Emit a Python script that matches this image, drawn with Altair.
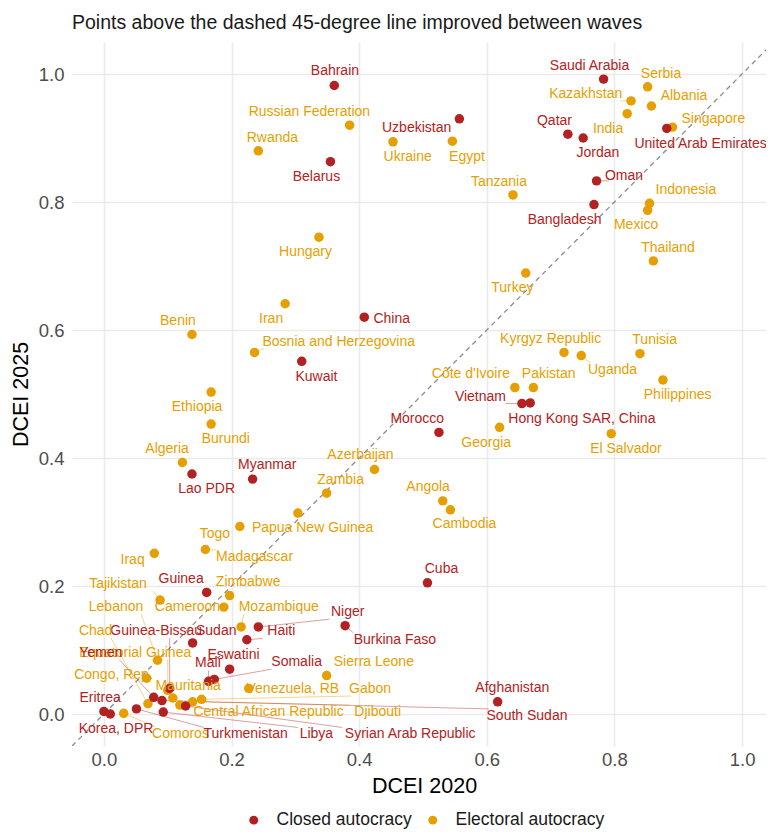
import math
import altair as alt
import pandas as pd

# ---------------- data ----------------
countries = [
    "Bahrain", "Russian Federation", "Rwanda", "Belarus", "Uzbekistan", "Ukraine", "Egypt", "Hungary",
    "Saudi Arabia", "Serbia", "Kazakhstan", "Albania", "India", "Singapore", "United Arab Emirates",
    "Qatar", "Jordan", "Oman", "Bangladesh", "Tanzania", "Indonesia", "Mexico", "Thailand", "Turkey",
    "Iran", "China", "Benin", "Bosnia and Herzegovina", "Kuwait", "Ethiopia", "Burundi", "Algeria",
    "Lao PDR", "Myanmar", "Morocco", "Azerbaijan", "Zambia", "Angola", "Cambodia", "Papua New Guinea",
    "Togo", "Madagascar", "Iraq", "Guinea", "Zimbabwe", "Tajikistan", "Lebanon", "Cameroon",
    "Mozambique", "Kyrgyz Republic", "Uganda", "Tunisia", "Philippines", "Côte d'Ivoire", "Pakistan",
    "Vietnam", "Hong Kong SAR, China", "Georgia", "El Salvador", "Cuba", "Niger", "Burkina Faso",
    "Haiti", "Sudan", "Equatorial Guinea", "Guinea-Bissau", "Chad", "Yemen", "Congo, Rep.",
    "Mauritania", "Eswatini", "Mali", "Somalia", "Venezuela, RB", "Sierra Leone", "Gabon",
    "Central African Republic", "Djibouti", "South Sudan", "Afghanistan", "Eritrea", "Korea, DPR",
    "Comoros", "Turkmenistan", "Libya", "Syrian Arab Republic",
]
regime_code = [
    "C", "E", "E", "C", "C", "E", "E", "E",
    "C", "E", "E", "E", "E", "E", "C",
    "C", "C", "C", "C", "E", "E", "E", "E", "E",
    "E", "C", "E", "E", "C", "E", "E", "E",
    "C", "C", "C", "E", "E", "E", "E", "E",
    "E", "E", "E", "C", "E", "E", "E", "E",
    "E", "E", "E", "E", "E", "E", "E",
    "C", "C", "E", "E", "C", "C", "C",
    "C", "C", "E", "C", "E", "C", "E",
    "E", "C", "C", "C", "E", "E", "E",
    "E", "E", "C", "C", "C", "C",
    "E", "C", "C", "C",
]
dcei_2020 = [
    0.361, 0.385, 0.242, 0.355, 0.557, 0.453, 0.546, 0.337,
    0.783, 0.852, 0.826, 0.858, 0.820, 0.891, 0.882,
    0.727, 0.751, 0.772, 0.768, 0.641, 0.855, 0.852, 0.861, 0.661,
    0.284, 0.408, 0.138, 0.236, 0.310, 0.168, 0.168, 0.123,
    0.138, 0.233, 0.525, 0.424, 0.349, 0.531, 0.543, 0.304,
    0.213, 0.159, 0.079, 0.161, 0.197, 0.088, 0.084, 0.188,
    0.215, 0.721, 0.748, 0.840, 0.876, 0.644, 0.673,
    0.655, 0.668, 0.620, 0.795, 0.507, 0.242, 0.378,
    0.224, 0.139, 0.100, 0.103, 0.069, 0.078, 0.067,
    0.108, 0.197, 0.164, 0.173, 0.227, 0.349, 0.153,
    0.119, 0.139, 0.091, 0.617, 0.000, 0.010,
    0.031, 0.051, 0.093, 0.128,
]
dcei_2025 = [
    0.982, 0.920, 0.880, 0.863, 0.930, 0.894, 0.895, 0.745,
    0.992, 0.980, 0.958, 0.950, 0.938, 0.917, 0.915,
    0.906, 0.900, 0.833, 0.796, 0.811, 0.798, 0.787, 0.708, 0.689,
    0.641, 0.620, 0.593, 0.565, 0.551, 0.503, 0.453, 0.393,
    0.375, 0.367, 0.440, 0.382, 0.345, 0.333, 0.319, 0.314,
    0.293, 0.257, 0.251, 0.190, 0.185, 0.178, 0.084, 0.167,
    0.136, 0.565, 0.560, 0.563, 0.522, 0.510, 0.510,
    0.485, 0.486, 0.448, 0.438, 0.205, 0.136, 0.138,
    0.116, 0.111, 0.037, 0.040, 0.016, 0.026, 0.056,
    0.025, 0.070, 0.051, 0.054, 0.040, 0.060, 0.023,
    0.014, 0.019, 0.021, 0.019, 0.004, 0.000,
    0.001, 0.008, 0.003, 0.0125,
]
# where each repelled label sits (data units)
label_x = [
    0.362, 0.322, 0.264, 0.333, 0.490, 0.476, 0.569, 0.316,
    0.761, 0.873, 0.755, 0.909, 0.790, 0.955, 0.935,
    0.706, 0.774, 0.815, 0.722, 0.619, 0.912, 0.834, 0.884, 0.640,
    0.262, 0.451, 0.116, 0.368, 0.333, 0.146, 0.191, 0.099,
    0.161, 0.256, 0.491, 0.402, 0.371, 0.508, 0.565, 0.327,
    0.174, 0.236, 0.045, 0.121, 0.226, 0.022, 0.019, 0.131,
    0.274, 0.700, 0.797, 0.863, 0.899, 0.575, 0.697,
    0.590, 0.749, 0.599, 0.818, 0.529, 0.382, 0.456,
    0.278, 0.176, 0.049, 0.082, -0.013, -0.005, 0.015,
    0.132, 0.203, 0.163, 0.302, 0.296, 0.423, 0.417,
    0.258, 0.429, 0.663, 0.640, -0.006, 0.019,
    0.120, 0.222, 0.333, 0.480,
]
label_y = [
    1.005, 0.941, 0.900, 0.839, 0.916, 0.870, 0.871, 0.722,
    1.013, 1.000, 0.969, 0.965, 0.914, 0.929, 0.891,
    0.927, 0.877, 0.841, 0.772, 0.832, 0.818, 0.764, 0.728, 0.666,
    0.617, 0.617, 0.614, 0.582, 0.527, 0.480, 0.430, 0.414,
    0.352, 0.389, 0.461, 0.404, 0.366, 0.354, 0.297, 0.291,
    0.282, 0.245, 0.240, 0.211, 0.207, 0.203, 0.167, 0.167,
    0.167, 0.586, 0.537, 0.585, 0.498, 0.531, 0.531,
    0.496, 0.461, 0.423, 0.414, 0.226, 0.159, 0.116,
    0.129, 0.130, 0.096, 0.130, 0.130, 0.096, 0.061,
    0.043, 0.092, 0.079, 0.081, 0.039, 0.081, 0.039,
    0.003, 0.003, -0.003, 0.041, 0.025, -0.024,
    -0.031, -0.032, -0.032, -0.032,
]

regime_names = {"C": "Closed autocracy", "E": "Electoral autocracy"}
regime_order = ["Closed autocracy", "Electoral autocracy"]
regime_colors = ["#B22222", "#E69F00"]
tick_values = [0.0, 0.2, 0.4, 0.6, 0.8, 1.0]
x_domain = [-0.05, 1.0375]
y_domain = [-0.05, 1.05]
diag_ends = [-0.05, 1.05]

subtitle = "Points above the dashed 45-degree line improved between waves"

FONT = "Liberation Sans"
W, H = 694, 704

# ---------------- table ----------------
df = pd.DataFrame({
    "country": countries,
    "regime": [regime_names[c] for c in regime_code],
    "x": dcei_2020,
    "y": dcei_2025,
    "lx": label_x,
    "ly": label_y,
})

# leader segments: from the point to the nearest edge of its label box
px_x = W / (x_domain[1] - x_domain[0])
px_y = H / (y_domain[1] - y_domain[0])
sx, sy, show = [], [], []
for _, r in df.iterrows():
    hw = len(r["country"]) * 6.6 / 2 + 2
    hh = 7
    ddx = max(-hw, min(hw, (r["x"] - r["lx"]) * px_x))
    ddy = max(-hh, min(hh, (r["y"] - r["ly"]) * px_y))
    ex = r["lx"] + ddx / px_x
    ey = r["ly"] + ddy / px_y
    dist = math.hypot((r["x"] - ex) * px_x, (r["y"] - ey) * px_y)
    sx.append(ex)
    sy.append(ey)
    show.append(dist > 10)
df["sx"] = sx
df["sy"] = sy
df["seg"] = show

diag_df = pd.DataFrame({"v": diag_ends})

x_scale = alt.Scale(domain=x_domain, nice=False, zero=False)
y_scale = alt.Scale(domain=y_domain, nice=False, zero=False)
x_axis = alt.Axis(values=tick_values, format=".1f", title="DCEI 2020", titleX=352)
y_axis = alt.Axis(values=tick_values, format=".1f", title="DCEI 2025")


def X(f):
    return alt.X(f"{f}:Q", scale=x_scale, axis=x_axis)


def Y(f):
    return alt.Y(f"{f}:Q", scale=y_scale, axis=y_axis)


def color_enc(legend):
    return alt.Color("regime:N", scale=alt.Scale(domain=regime_order, range=regime_colors), legend=legend)


diag = alt.Chart(diag_df).mark_line(
    strokeDash=[5, 4], color="#8C8C8C", strokeWidth=1.3, clip=True
).encode(x=X("v"), y=Y("v"))

segs = alt.Chart(df[df["seg"]]).mark_rule(strokeWidth=0.8, opacity=0.55).encode(
    x=X("x"), y=Y("y"), x2="sx:Q", y2="sy:Q", color=color_enc(None),
)

points = alt.Chart(df).mark_circle(size=90, opacity=1).encode(
    x=X("x"), y=Y("y"),
    color=color_enc(alt.Legend(
        title=None, orient="none", legendX=173, legendY=769,
        direction="horizontal", symbolType="circle", symbolSize=80,
        symbolStrokeWidth=0, symbolOpacity=1, labelFontSize=17.5, labelFont=FONT,
        labelColor="#1A1A1A", columnPadding=12, labelOffset=14, padding=0,
    )),
)

labels = alt.Chart(df).mark_text(
    font=FONT, fontSize=14, align="center", baseline="middle"
).encode(
    x=X("lx"), y=Y("ly"), text="country:N", color=color_enc(None),
)

chart = alt.layer(diag, segs, points, labels).resolve_scale(color="independent").properties(
    width=W, height=H,
    autosize=alt.AutoSizeParams(type="none"),
    padding={"left": 64, "top": 34, "right": 0, "bottom": 84},
    title=alt.TitleParams(
        text=subtitle, anchor="start", font=FONT, fontSize=19.5, frame="group",
        fontWeight="normal", color="#1A1A1A", offset=11, baseline="bottom", dy=21,
    ),
).configure_view(stroke=None).configure_axis(
    domain=False, ticks=False, tickSize=0,
    grid=True, gridColor="#EBEBEB", gridWidth=1.6,
    labelFont=FONT, labelFontSize=18.5, labelColor="#4D4D4D",
    titleFont=FONT, titleFontSize=21.5, titleFontWeight="normal", titleColor="#000000",
).configure_axisX(labelPadding=4, titlePadding=7).configure_axisY(labelPadding=8, titlePadding=6)

chart.save("out.html", embed_options={"renderer": "svg", "actions": False})
